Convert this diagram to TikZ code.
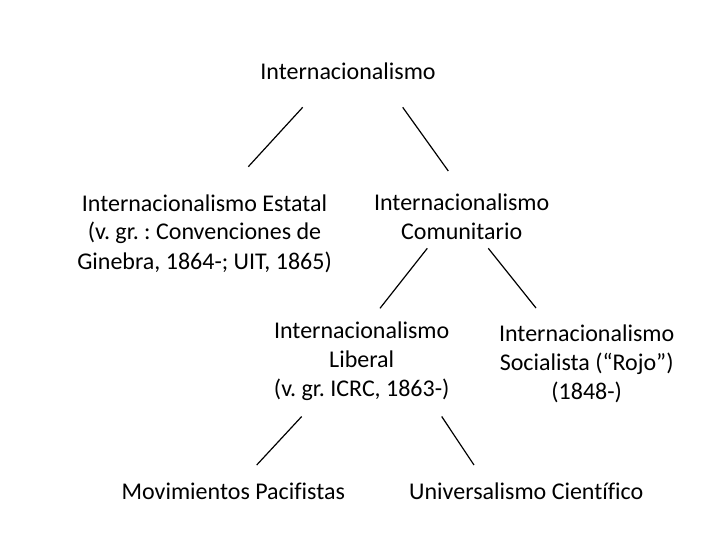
\documentclass[tikz,border=0pt]{standalone}
\usepackage{fontspec}
\setmainfont{Carlito}[Ligatures={NoCommon}]
\begin{document}
\begin{tikzpicture}[x=1pt,y=-1pt,
  lbl/.style={align=center,inner sep=0pt,anchor=base,font=\fontsize{24pt}{29pt}\selectfont\frenchspacing},
  conn/.style={line width=1.2pt}]
\useasboundingbox (0,0) rectangle (720,540);
\fill[white] (0,0) rectangle (720,540);
% base anchor = baseline of the last line
\node[lbl] (root) at (348,80) {Internacionalismo};
\node[lbl] (est) at (204.5,269) {Internacionalismo Estatal\\(v. gr. : Convenciones de\\Ginebra, 1864-; UIT, 1865)};
\node[lbl] (com) at (461.7,240) {Internacionalismo\\Comunitario};
\node[lbl] (lib) at (361.7,396.5) {Internacionalismo\\Liberal\\(v. gr. ICRC, 1863-)};
\node[lbl] (soc) at (586.7,399.5) {Internacionalismo\\Socialista (“Rojo”)\\(1848-)};
\node[lbl] (mov) at (233.3,499) {Movimientos Pacifistas};
\node[lbl] (uni) at (526.3,499) {Universalismo Científico};
\coordinate (r1) at (302.7,107.3); \coordinate (e1) at (248.3,166.7);
\coordinate (r2) at (402.7,107.3); \coordinate (c1) at (448.3,171);
\coordinate (c2) at (427.3,248.3); \coordinate (l1) at (380,308.3);
\coordinate (c3) at (488.3,248.3); \coordinate (s1) at (536,308);
\coordinate (l2) at (301.7,416.5); \coordinate (m1) at (256.7,465);
\coordinate (l3) at (441.7,416.5); \coordinate (u1) at (474,465);
\draw[conn] (r1) -- (e1);
\draw[conn] (r2) -- (c1);
\draw[conn] (c2) -- (l1);
\draw[conn] (c3) -- (s1);
\draw[conn] (l2) -- (m1);
\draw[conn] (l3) -- (u1);
\end{tikzpicture}
\end{document}
